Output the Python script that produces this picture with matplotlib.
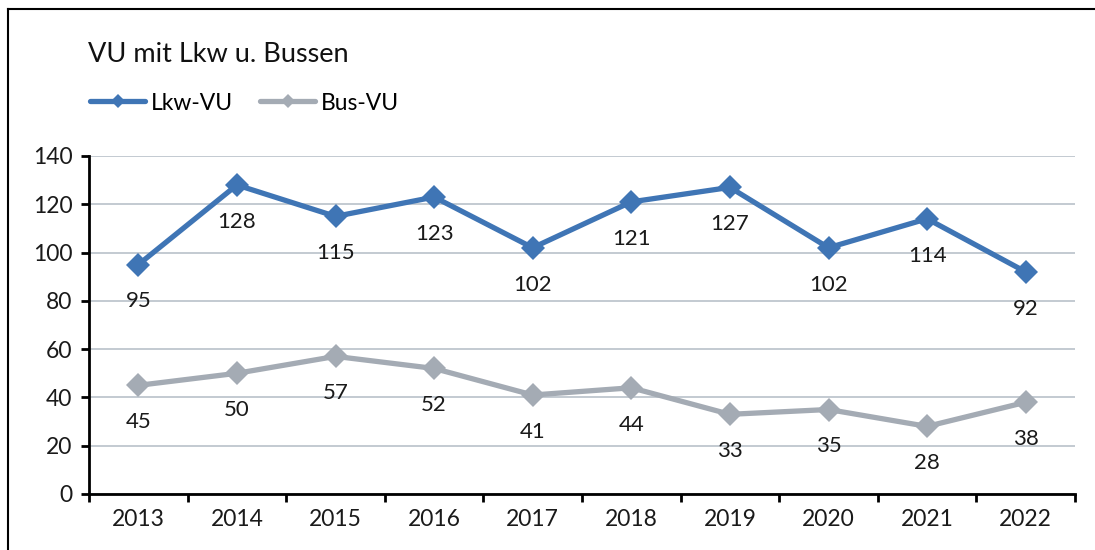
#!/usr/bin/env python3

import matplotlib
matplotlib.use("Agg")
from matplotlib import pyplot
from matplotlib.lines import Line2D


YEARS = ["2013", "2014", "2015", "2016", "2017", "2018", "2019", "2020", "2021", "2022"]
LKW_VU = [95, 128, 115, 123, 102, 121, 127, 102, 114, 92]
BUS_VU = [45, 50, 57, 52, 41, 44, 33, 35, 28, 38]

TITLE = "VU mit Lkw u. Bussen"
SERIES = [
	dict(values = LKW_VU, label = "Lkw-VU", color = "#3F75B5"),
	dict(values = BUS_VU, label = "Bus-VU", color = "#A4ABB4"),
]

W, H = 1095, 550
pyplot.rcParams["font.family"] = ["Lato", "DejaVu Sans"]


def px(x, y):
	# pixel coords (top-left origin) -> figure fraction
	return x / W, 1 - y / H


def main():
	fig = pyplot.figure(figsize = (W / 100, H / 100), dpi = 100)
	x0, y0 = px(89, 494)
	x1, y1 = px(1075, 156)
	ax = fig.add_axes([x0, y0, x1 - x0, y1 - y0])

	# frame around the chart (only left and top are visible in the crop)
	fig.add_artist(Line2D([8 / W, 8 / W], [0, 1 - 9 / H], color = "black", lw = 1.5,
		transform = fig.transFigure))
	fig.add_artist(Line2D([8 / W, 1], [1 - 9 / H, 1 - 9 / H], color = "black", lw = 1.5,
		transform = fig.transFigure))

	xs = list(range(len(YEARS)))
	for s in SERIES:
		ax.plot(xs, s["values"], color = s["color"], lw = 3.8, marker = "D",
			markersize = 12.5, markeredgewidth = 0, solid_joinstyle = "miter",
			clip_on = False, zorder = 3, label = s["label"])
		for x, v in zip(xs, s["values"]):
			ax.annotate(str(v), (x, v), xytext = (0, -26.5), textcoords = "offset points",
				ha = "center", va = "center", fontsize = 16, color = "#1a1a1a")

	ax.set_xlim(-0.5, len(YEARS) - 0.5)
	ax.set_ylim(0, 140)
	ax.set_yticks(range(0, 141, 20))
	ax.set_xticks([i - 0.5 for i in range(len(YEARS) + 1)], minor = False)
	ax.set_xticklabels([""] * (len(YEARS) + 1))
	ax.set_xticks(xs, minor = True)
	ax.set_xticklabels(YEARS, minor = True)
	ax.tick_params(axis = "x", which = "minor", length = 0, pad = 11, labelsize = 16.5,
		labelcolor = "#1a1a1a")
	ax.tick_params(axis = "x", which = "major", length = 6, width = 2, direction = "out")
	ax.tick_params(axis = "y", length = 6, width = 2, pad = 6, labelsize = 16.5,
		labelcolor = "#1a1a1a")

	for side in ("top", "right"):
		ax.spines[side].set_visible(False)
	for side in ("left", "bottom"):
		ax.spines[side].set_linewidth(2)
	ax.yaxis.grid(True, color = "#B9C1C9", lw = 1.2)
	ax.set_axisbelow(True)

	tx, ty = px(88, 55)
	fig.text(tx, ty, TITLE, fontsize = 19.5, ha = "left", va = "center", color = "#111111")

	lx, ly = px(90, 103)
	fig.legend(handles = [Line2D([], [], color = s["color"], lw = 3.8, marker = "D",
		markersize = 7, markeredgewidth = 0, solid_capstyle = "round") for s in SERIES],
		labels = [s["label"] for s in SERIES], loc = "center left",
		bbox_to_anchor = (lx, ly), ncol = 2, frameon = False, fontsize = 16.5,
		handlelength = 2.4, handletextpad = 0.25, columnspacing = 1.2, borderpad = 0,
		borderaxespad = 0)

	fig.savefig("out.png", dpi = 100)
	pyplot.close(fig)


if __name__ == "__main__":
	main()
